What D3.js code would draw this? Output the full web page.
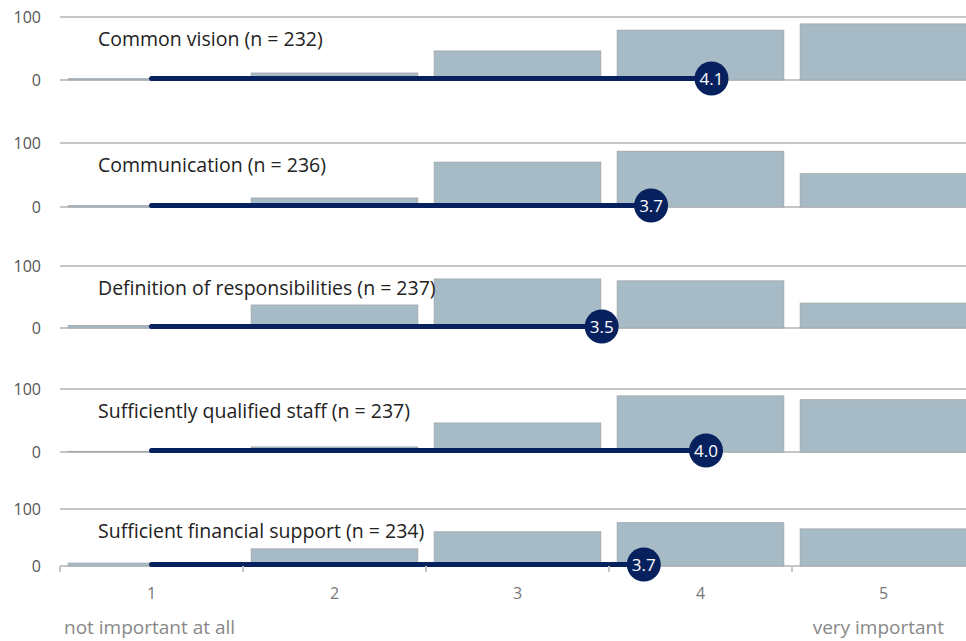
<!DOCTYPE html>
<html>
<head>
<meta charset="utf-8">
<script src="https://cdn.jsdelivr.net/npm/d3@7"></script>
<style>
  body { margin: 0; background: #fff; overflow: hidden; }
  svg { display: block; font-family: "Open Sans", "Noto Sans", sans-serif; }
</style>
</head>
<body>
<svg id="chart"></svg>
<script>
// answer categories and end labels
const scaleTicks = ["1", "2", "3", "4", "5"]
const lowLabel = "not important at all"
const highLabel = "very important"

// items, sample sizes, means
const items = ["Common vision", "Communication", "Definition of responsibilities",
    "Sufficiently qualified staff", "Sufficient financial support"]
const nValues = [232, 236, 237, 237, 234]
const means = [4.06, 3.73, 3.46, 4.03, 3.69]

// answer counts per item (1..5)
const countsCommonVision = [2, 11, 46, 79, 89]
const countsCommunication = [2, 14, 70, 87, 52]
const countsResponsibilities = [4, 37, 79, 76, 40]
const countsStaff = [1, 8, 46, 89, 83]
const countsFinancial = [5, 30, 60, 76, 65]
const counts = [countsCommonVision, countsCommunication, countsResponsibilities, countsStaff, countsFinancial]

const yTicks = [0, 100]

const width = 966
const height = 641
const left = 60
const right = 975
// panel layout (top = 100 line, bottom = 0 line)
const rowTops = [17, 143, 266, 389, 509]
const rowBottoms = [80, 207, 328, 452, 566]

const svg = d3.select("#chart")
    .attr("width", width)
    .attr("height", height)

const x = d3.scaleBand()
    .domain(scaleTicks)
    .range([left, right])
    .paddingInner(0.09)
    .paddingOuter(0.045)

const xMean = d3.scaleLinear()
    .domain([1, 5])
    .range([x("1") + x.bandwidth() / 2, x("5") + x.bandwidth() / 2])

items.forEach(function(item, i) {
    const y = d3.scaleLinear()
        .domain([0, 100])
        .range([rowBottoms[i], rowTops[i]])

    const g = svg.append("g")

    // top gridline and baseline
    g.selectAll("line.grid")
        .data(yTicks)
        .enter()
        .append("line")
        .attr("x1", left)
        .attr("x2", right)
        .attr("y1", d => y(d))
        .attr("y2", d => y(d))
        .attr("stroke", "#c6c6c6")
        .attr("stroke-width", 2)

    // y labels
    g.selectAll("text.ylab")
        .data(yTicks)
        .enter()
        .append("text")
        .attr("x", 41)
        .attr("y", d => y(d))
        .attr("dy", "0.35em")
        .attr("text-anchor", "end")
        .attr("font-size", 16)
        .attr("fill", "#555")
        .text(d => d)

    // bars
    g.selectAll("rect")
        .data(counts[i])
        .enter()
        .append("rect")
        .attr("x", (d, j) => x(scaleTicks[j]))
        .attr("width", x.bandwidth())
        .attr("y", d => y(d))
        .attr("height", d => y(0) - y(d))
        .attr("fill", "#a7bbc7")
        .attr("stroke", "#a3abb0")
        .attr("stroke-width", 1)

    // item title
    g.append("text")
        .attr("x", 98)
        .attr("y", rowTops[i] + 29)
        .attr("font-size", 19.5)
        .attr("fill", "#222")
        .text(`${item} (n = ${nValues[i]})`)

    // mean line
    g.append("line")
        .attr("x1", xMean(1))
        .attr("x2", xMean(means[i]))
        .attr("y1", y(0) - 1.5)
        .attr("y2", y(0) - 1.5)
        .attr("stroke", "#07215e")
        .attr("stroke-width", 5)
        .attr("stroke-linecap", "round")

    g.append("circle")
        .attr("cx", xMean(means[i]))
        .attr("cy", y(0) - 1.5)
        .attr("r", 17)
        .attr("fill", "#07215e")

    g.append("text")
        .attr("x", xMean(means[i]))
        .attr("y", y(0) - 1.5)
        .attr("dy", "0.36em")
        .attr("text-anchor", "middle")
        .attr("font-size", 17)
        .attr("fill", "#fff")
        .text(d3.format(".1f")(means[i]))
})

// bottom axis
const axisY = rowBottoms[rowBottoms.length - 1]
const axisG = svg.append("g")
    .attr("transform", `translate(0,${axisY})`)

axisG.call(d3.axisBottom(x).tickSize(0).tickPadding(22))
axisG.select(".domain").remove()
axisG.selectAll("text")
    .attr("font-family", "\"Open Sans\", sans-serif")
    .attr("font-size", 16)
    .attr("fill", "#777")

const boundaries = scaleTicks.map(d => x(d) - x.step() * x.paddingInner() / 2)
boundaries[0] = left
axisG.selectAll("line.bound")
    .data(boundaries)
    .enter()
    .append("line")
    .attr("x1", d => d)
    .attr("x2", d => d)
    .attr("y1", 0)
    .attr("y2", 6)
    .attr("stroke", "#c6c6c6")
    .attr("stroke-width", 2)

svg.append("text")
    .attr("x", 64)
    .attr("y", 634)
    .attr("font-size", 19)
    .attr("fill", "#888")
    .text(lowLabel)

svg.append("text")
    .attr("x", 944)
    .attr("y", 634)
    .attr("text-anchor", "end")
    .attr("font-size", 19)
    .attr("fill", "#888")
    .text(highLabel)
</script>
</body>
</html>
